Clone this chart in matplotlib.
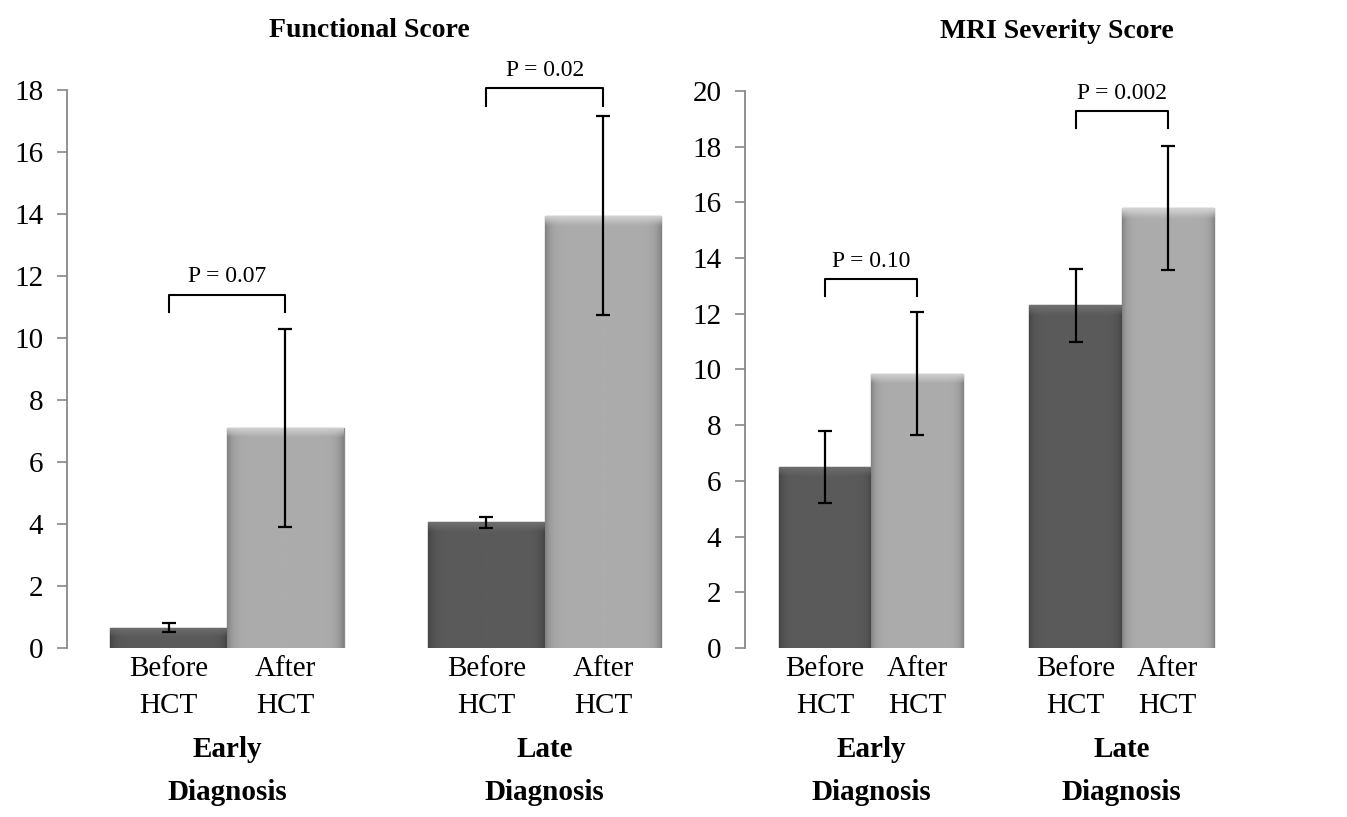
import numpy as np
import matplotlib.pyplot as plt

groups = ['Early\nDiagnosis', 'Late\nDiagnosis']
conditions = ['Before\nHCT', 'After\nHCT']

func_before = [0.65, 4.05]
func_before_err = [0.15, 0.17]
func_after = [7.1, 13.95]
func_after_err = [3.2, 3.2]
func_p = ['P = 0.07', 'P = 0.02']
func_bracket = [11.4, 18.05]

mri_before = [6.5, 12.3]
mri_before_err = [1.28, 1.3]
mri_after = [9.85, 15.8]
mri_after_err = [2.2, 2.22]
mri_p = ['P = 0.10', 'P = 0.002']
mri_bracket = [13.25, 19.28]

plt.rcParams['font.family'] = ['Liberation Serif', 'DejaVu Serif']

dark = '#5b5b5b'
light = '#acacac'


def shade_bar(ax, rect, base, rim):
    # fake the bevelled look: slightly darker sides, lighter top rim
    x0, y0 = rect.get_x(), rect.get_y()
    w, h = rect.get_width(), rect.get_height()
    n = 200
    xs = np.linspace(0, 1, n)
    side = 1 - 0.25 * (np.abs(xs - 0.5) * 2) ** 10
    ys = np.linspace(0, h, n)[:, None]
    base = np.array(base)
    img = np.ones((n, n, 3)) * base[None, None, :] * side[None, :, None]
    top = np.clip((ys - (h - rim)) / rim, 0, 1)
    top = np.broadcast_to(top, (n, n))
    hi = (base * 1.22).clip(0, 1)
    img = img * (1 - top[:, :, None]) + hi * top[:, :, None]
    im = ax.imshow(img, extent=(x0, x0 + w, y0, y0 + h), origin='lower',
                   aspect='auto', zorder=2, interpolation='bilinear')
    im.set_clip_path(rect)


def panel(ax, before, before_err, after, after_err, pvals, brackets, ymax, title, title_x):
    centers = np.array([0, 2.72])
    xb = centers
    xa = centers + 1
    b1 = ax.bar(xb, before, width=1, color=dark, edgecolor='#444444', linewidth=1, zorder=1)
    b2 = ax.bar(xa, after, width=1, color=light, edgecolor='#8a8a8a', linewidth=1, zorder=1)
    rim = ymax * 0.017
    for r in b1:
        shade_bar(ax, r, (0x5b / 255,) * 3, rim)
    for r in b2:
        shade_bar(ax, r, (0xac / 255,) * 3, rim)
    ax.errorbar(xb, before, yerr=before_err, fmt='none', ecolor='black',
                elinewidth=1.6, capsize=5, capthick=1.6, zorder=4)
    ax.errorbar(xa, after, yerr=after_err, fmt='none', ecolor='black',
                elinewidth=1.6, capsize=5, capthick=1.6, zorder=4)

    drop = ymax * 0.031
    for i in range(2):
        top = brackets[i]
        ax.plot([xb[i], xb[i], xa[i], xa[i]], [top - drop, top, top, top - drop],
                color='black', lw=1.5, clip_on=False, zorder=4)
        ax.text((xb[i] + xa[i]) / 2, top + ymax * 0.013, pvals[i], ha='center',
                va='bottom', fontsize=17, clip_on=False)

    ax.set_xlim(-0.87, 4.3)
    ax.set_ylim(0, ymax)
    ax.set_yticks(np.arange(0, ymax + 1, 2))
    ax.set_xticks(np.concatenate([xb, xa]))
    ax.set_xticklabels([conditions[0]] * 2 + [conditions[1]] * 2, linespacing=1.55)
    ax.tick_params(axis='x', length=0, pad=6, labelsize=21)
    ax.tick_params(axis='y', length=7, width=1.2, color='#888888', labelsize=21, pad=10)
    for s in ['top', 'right', 'bottom']:
        ax.spines[s].set_visible(False)
    ax.spines['left'].set_color('#888888')
    ax.spines['left'].set_linewidth(1.3)

    for i in range(2):
        ax.text((xb[i] + xa[i]) / 2, -0.158, groups[i], transform=ax.get_xaxis_transform(),
                ha='center', va='top', fontsize=21, fontweight='bold', linespacing=1.75)

    ax.set_title(title, fontsize=20, fontweight='bold', pad=38, x=title_x)


fig = plt.figure(figsize=(13.47, 8.17), dpi=100)
ax1 = fig.add_axes([0.0497, 0.2069, 0.4483, 0.6829])
ax2 = fig.add_axes([0.553, 0.2069, 0.3535, 0.6817])

panel(ax1, func_before, func_before_err, func_after, func_after_err,
      func_p, func_bracket, 18, 'Functional Score', 0.5)
panel(ax2, mri_before, mri_before_err, mri_after, mri_after_err,
      mri_p, mri_bracket, 20, 'MRI Severity Score', 0.655)

fig.savefig('out.png', dpi=100)
